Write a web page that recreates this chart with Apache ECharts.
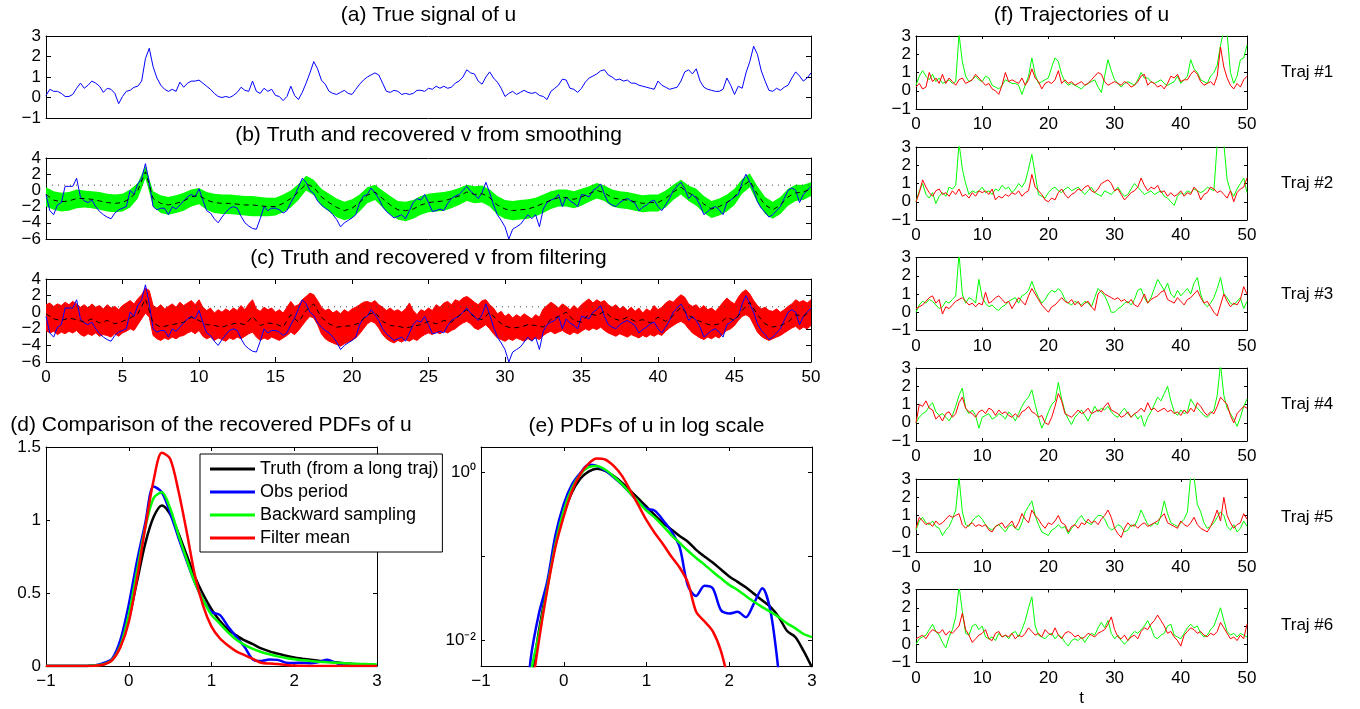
<!DOCTYPE html>
<html><head><meta charset="utf-8">
<script src="https://cdn.jsdelivr.net/npm/echarts@6/dist/echarts.min.js"></script>
<style>html,body{margin:0;padding:0;background:#fff;}#c{width:1360px;height:709px;}</style>
</head><body><div id="c"></div>
<script>
// ---------------- DATA ----------------
const stepFine = 0.25;   // sampling step of u, v, filter band
const stepCoarse = 0.5;  // sampling step of smoother / filter mean / trajectories

const uTrue = [
0.10,0.40,0.30,0.30,0.20,0.05,0.05,0.15,0.45,0.70,0.45,0.60,0.80,0.70,0.55,0.25,0.45,0.40,0.20,-0.30,
0.05,0.30,0.35,0.50,0.55,0.80,1.90,2.40,1.50,0.95,0.60,0.40,0.30,0.40,0.30,0.75,0.50,0.70,0.80,0.80,
0.85,0.70,0.55,0.40,0.20,0.05,0.00,0.05,0.00,0.10,0.25,0.50,0.35,0.30,0.80,0.30,0.20,0.45,0.30,0.40,
0.10,0.05,-0.15,0.05,0.55,0.10,-0.10,0.25,0.70,1.20,1.75,1.40,0.85,0.65,0.30,0.20,0.15,0.25,0.35,0.20,
0.15,0.40,0.65,0.85,1.00,1.10,1.20,1.10,0.70,0.30,0.25,0.35,0.30,0.15,0.20,0.15,0.20,0.35,0.35,0.30,
0.45,0.40,0.55,0.45,0.55,0.45,0.50,0.70,0.80,1.00,1.35,1.20,1.15,0.80,0.65,1.00,1.25,0.95,0.75,0.45,
0.05,0.20,0.30,0.15,0.25,0.35,0.25,0.20,0.25,0.10,0.05,-0.10,0.30,0.45,0.60,0.90,0.85,0.45,0.40,0.25,
0.45,0.75,0.95,1.05,1.15,1.30,1.35,1.10,1.00,0.85,0.90,0.80,0.85,0.70,0.70,0.60,0.55,0.50,0.45,0.40,
0.80,0.60,0.50,0.40,0.45,0.50,0.80,1.25,1.35,1.15,1.40,0.80,0.50,0.40,0.35,0.30,0.30,0.40,0.95,0.60,
0.15,0.55,0.45,1.20,1.75,2.50,2.10,1.30,0.80,0.35,0.30,0.45,0.35,0.50,0.60,0.95,1.25,1.05,0.80,0.95,
1.20];

const vTrue = [
-0.5,-2.5,-3.0,-1.8,-1.5,0.5,0.5,0.5,1.5,-0.8,-1.3,-1.5,-1.2,-2.0,-2.6,-3.0,-3.3,-3.5,-2.8,-2.4,
-2.2,-2.0,0.0,-0.5,0.8,1.5,3.3,1.0,-2.0,-2.4,-2.2,-2.2,-3.0,-2.0,-2.3,-1.8,-1.3,-0.8,-0.5,-0.8,
0.2,-1.2,-2.5,-2.8,-3.5,-4.0,-3.3,-2.7,-2.2,-2.0,-2.2,-3.2,-4.0,-4.4,-4.7,-4.8,-3.5,-2.0,-2.5,-2.2,
-2.2,-2.4,-2.8,-2.5,-1.5,-0.7,0.4,1.5,1.0,0.0,-0.4,-1.3,-1.8,-2.2,-2.5,-3.0,-3.6,-4.5,-4.0,-3.7,
-3.4,-3.0,-1.5,-0.7,-0.5,0.3,-0.3,-1.0,-2.0,-2.6,-3.0,-3.4,-3.2,-3.0,-3.5,-2.5,-1.5,-1.0,-1.2,-0.5,
-1.5,-2.6,-2.5,-2.3,-2.5,-1.6,-1.0,-0.7,-0.5,0.0,0.5,-0.1,-0.5,-1.0,-0.3,1.0,-0.3,-1.8,-3.0,-3.7,
-4.5,-6.0,-4.8,-4.5,-4.2,-3.6,-3.0,-3.5,-3.0,-4.5,-2.3,-1.5,-1.2,-1.0,-0.5,-2.0,-0.8,-1.3,-1.6,-2.0,
-0.5,-0.6,-0.8,0.0,0.3,0.8,-0.5,-1.5,-1.8,-2.0,-1.5,-1.2,-1.0,-1.3,-1.6,-2.5,-2.1,-1.8,-1.4,-1.2,
-2.0,-2.5,-1.8,-1.0,0.0,0.5,1.0,0.2,-1.0,-0.5,-1.0,-1.8,-3.0,-2.6,-2.2,-2.0,-2.4,-3.0,-1.5,-1.2,
-0.8,-0.5,1.0,2.0,1.0,0.0,-1.4,-2.2,-2.7,-3.3,-3.0,-2.5,-2.0,-1.0,0.0,0.3,0.0,-1.5,-0.5,0.0,
0.5];

const smoothMean = [
-0.5,-1.2,-1.4,-1.3,-1.0,-1.0,-1.1,-1.3,-1.5,-1.6,
-1.5,-1.0,0.0,2.3,-1.0,-1.6,-1.8,-1.6,-1.3,-0.8,
-0.6,-1.2,-1.5,-1.6,-1.6,-1.7,-1.8,-1.8,-1.9,-2.0,
-2.0,-1.6,-1.0,-0.2,0.8,0.4,-0.8,-1.5,-2.1,-2.5,
-2.2,-1.5,-0.6,-0.2,-1.0,-1.8,-2.4,-2.5,-2.3,-1.8,
-1.5,-1.4,-1.3,-1.0,-0.7,-0.2,-0.5,-0.4,-0.9,-1.8,
-2.3,-2.5,-2.4,-2.3,-2.0,-1.6,-1.2,-0.9,-0.9,-1.1,
-0.8,-0.4,0.0,-0.3,-0.9,-1.1,-1.2,-1.4,-1.6,-1.5,
-1.5,-1.0,-0.2,0.4,-0.3,-0.8,-1.7,-2.3,-2.0,-1.5,
-0.8,0.5,1.2,-0.5,-1.8,-2.4,-1.8,-0.8,-0.3,-0.2,
0.2];

const smoothUpper = [
0.4,-0.1,-0.3,-0.2,0.1,0.0,-0.1,-0.2,-0.4,-0.5,
-0.4,0.1,0.9,3.0,-0.1,-0.6,-0.8,-0.6,-0.3,0.1,
0.3,-0.2,-0.4,-0.5,-0.5,-0.6,-0.7,-0.7,-0.8,-0.9,
-0.9,-0.5,0.0,0.8,1.8,1.3,0.2,-0.4,-1.0,-1.4,
-1.1,-0.5,0.4,0.7,0.0,-0.7,-1.3,-1.4,-1.2,-0.7,
-0.4,-0.3,-0.2,0.0,0.3,0.7,0.5,0.6,0.1,-0.7,
-1.2,-1.3,-1.2,-1.1,-0.9,-0.5,-0.1,0.1,0.1,-0.1,
0.2,0.5,0.9,0.6,0.1,-0.1,-0.2,-0.4,-0.6,-0.5,
-0.5,0.0,0.7,1.3,0.6,0.2,-0.7,-1.3,-1.0,-0.5,
0.2,1.4,2.1,0.5,-0.8,-1.4,-0.8,0.2,0.7,0.7,
1.0];

const smoothLower = [
-2.0,-2.4,-2.6,-2.5,-2.2,-2.1,-2.2,-2.4,-2.6,-2.7,
-2.6,-2.1,-1.0,1.5,-2.0,-2.8,-3.0,-2.8,-2.5,-2.0,
-1.7,-2.4,-2.8,-2.9,-2.9,-3.0,-3.1,-3.2,-3.2,-3.2,
-3.1,-2.7,-2.1,-1.2,0.0,-0.6,-1.9,-2.6,-3.3,-3.7,
-3.4,-2.6,-1.6,-1.2,-2.1,-3.0,-3.6,-3.8,-3.5,-3.0,
-2.7,-2.6,-2.5,-2.2,-1.8,-1.3,-1.6,-1.5,-2.0,-3.0,
-3.5,-3.7,-3.6,-3.5,-3.2,-2.8,-2.3,-2.0,-2.0,-2.2,
-1.9,-1.4,-1.0,-1.3,-2.0,-2.2,-2.3,-2.5,-2.7,-2.6,
-2.6,-2.1,-1.2,-0.5,-1.3,-1.9,-2.8,-3.4,-3.1,-2.6,
-1.8,-0.4,0.4,-1.5,-2.9,-3.5,-2.9,-1.9,-1.3,-1.2,
-0.7];

const filterMean = [
-0.2,-0.8,-1.0,-0.7,-0.9,-1.2,-0.8,-1.3,-1.0,-1.4,
-1.1,-0.7,-0.2,1.6,-1.3,-1.8,-1.6,-1.4,-1.2,-0.6,
-1.0,-1.5,-1.6,-1.8,-1.5,-1.3,-1.5,-0.5,-1.6,-1.3,
-1.4,-1.8,-0.3,-1.2,0.2,1.0,-0.6,-1.4,-1.8,-1.7,
-1.6,-1.3,-0.3,0.0,-1.1,-1.6,-1.7,-1.9,-1.7,-1.5,
-1.1,-1.4,-1.0,-1.2,-0.4,0.3,-0.6,-0.9,0.0,-1.0,
-1.7,-1.9,-1.8,-1.5,-1.6,-1.8,-0.9,-0.5,0.0,-1.0,
-1.2,-0.2,-0.4,0.1,-0.7,-1.0,-0.6,-1.1,-0.9,-1.3,
-0.6,-1.1,-0.4,0.6,-0.4,-0.9,-1.3,-1.6,-1.4,-0.6,
-1.0,0.2,1.2,-0.3,-1.4,-1.8,-1.6,-1.2,-0.3,-0.5,
0.2];

const filterUpper = [
0.9,1.1,0.7,1.0,0.8,1.2,0.9,1.3,1.0,0.6,0.9,0.5,1.0,0.6,0.8,0.4,0.9,0.5,0.7,0.3,
0.8,1.1,1.4,1.0,1.6,2.1,2.9,2.6,0.8,0.5,0.9,0.4,0.7,1.0,0.6,1.2,0.8,1.1,1.4,0.9,
1.5,0.6,0.2,0.5,-0.1,0.3,0.0,0.4,0.1,0.5,0.2,0.8,0.3,1.0,1.5,0.4,0.1,0.6,0.3,0.5,
0.0,0.3,-0.1,0.6,1.3,0.7,0.9,1.5,1.9,2.3,2.1,1.4,0.6,0.2,0.4,-0.1,0.2,-0.2,0.3,0.0,
0.4,0.6,0.9,1.2,1.3,1.1,1.4,0.9,0.6,0.2,0.5,0.1,0.3,0.0,0.4,1.1,0.2,-0.3,0.3,0.1,
0.5,0.2,0.9,0.6,1.1,1.3,0.9,1.5,1.3,1.7,1.9,1.6,1.2,0.9,1.4,1.5,0.9,0.5,-0.2,0.1,
-0.5,-0.2,-0.7,-0.3,-0.6,-0.2,-0.5,-0.8,-0.3,-0.6,0.4,0.8,1.2,0.9,0.5,1.0,0.7,0.3,0.8,0.4,
0.9,1.3,1.6,1.1,1.5,1.2,1.4,0.9,0.6,0.9,0.4,0.7,0.2,0.6,0.1,0.5,-0.1,0.4,0.1,0.8,
0.3,0.6,1.1,1.4,1.2,1.7,2.1,1.8,1.0,0.7,0.9,0.4,0.8,0.3,0.5,0.1,0.6,1.2,1.7,1.3,
1.0,1.8,2.4,2.7,2.2,1.4,0.8,0.4,0.6,0.2,0.1,0.4,0.0,0.3,0.7,1.0,1.5,1.2,1.4,1.1,
1.5];

const filterLower = [
-2.2,-2.5,-2.3,-2.7,-2.4,-2.6,-2.3,-2.5,-2.2,-2.7,-2.9,-2.6,-2.8,-2.5,-2.9,-2.7,-2.8,-3.0,-2.6,-2.9,
-2.5,-2.3,-2.0,-2.2,-1.5,-0.8,-0.1,-0.6,-2.8,-3.2,-3.4,-3.1,-3.3,-3.0,-3.2,-2.9,-2.8,-2.5,-2.3,-2.6,
-2.2,-2.9,-3.2,-3.0,-3.4,-3.1,-3.3,-3.5,-3.1,-3.3,-3.0,-3.2,-2.9,-2.6,-2.4,-3.0,-3.4,-3.1,-3.3,-3.0,
-3.2,-3.4,-3.1,-2.8,-2.4,-2.7,-2.2,-1.6,-1.0,-0.5,-0.7,-1.5,-2.6,-3.2,-3.5,-3.7,-3.9,-4.1,-3.8,-3.6,
-3.4,-3.1,-2.6,-2.0,-1.4,-1.1,-1.3,-1.9,-2.7,-3.2,-3.5,-3.7,-3.4,-3.6,-3.3,-3.5,-3.2,-3.4,-3.0,-2.7,
-2.5,-2.7,-2.4,-2.6,-2.3,-2.5,-2.2,-2.0,-1.6,-1.3,-1.1,-1.4,-1.9,-2.1,-1.8,-1.5,-2.0,-2.6,-3.1,-3.3,
-3.5,-3.2,-3.4,-3.1,-3.3,-3.5,-3.2,-3.4,-3.1,-3.3,-2.8,-2.5,-2.3,-2.6,-2.4,-2.2,-2.5,-2.7,-2.4,-2.6,
-2.3,-2.0,-2.2,-1.9,-2.1,-1.8,-2.2,-2.5,-2.7,-2.9,-2.6,-2.8,-3.0,-2.7,-2.9,-3.1,-2.8,-3.0,-2.7,-2.9,
-2.6,-2.8,-2.3,-1.9,-1.6,-1.3,-1.1,-1.4,-2.0,-2.5,-2.8,-3.1,-3.3,-3.0,-3.2,-2.9,-3.1,-2.6,-2.2,-2.0,
-1.6,-1.0,-0.5,-0.3,-0.6,-1.5,-2.4,-2.9,-3.2,-3.4,-3.2,-3.0,-2.8,-2.5,-2.2,-1.9,-1.7,-2.1,-1.8,-2.0,
-1.6];

const vReferenceLevel = 0.65;   // dotted horizontal line in (b) and (c)

const pdfX = [-1.0,-0.9,-0.8,-0.7,-0.6,-0.5,-0.4,-0.3,-0.2,-0.1,0.0,0.1,0.2,0.3,0.4,0.5,0.6,0.7,0.8,0.9,
1.0,1.1,1.2,1.3,1.4,1.5,1.6,1.7,1.8,1.9,2.0,2.1,2.2,2.3,2.4,2.5,2.6,2.7,2.8,2.9,3.0];
const pdfTruth = [0.0001,0.0001,0.0001,0.0002,0.0003,0.0008,0.003,0.013,0.045,0.14,
0.32,0.58,0.84,1.02,1.10,1.04,0.91,0.76,0.61,0.49,
0.39,0.31,0.25,0.21,0.175,0.15,0.12,0.10,0.085,0.07,
0.058,0.05,0.043,0.036,0.030,0.025,0.019,0.013,0.011,0.0075,0.0048];
const pdfObs = [0.0001,0.0001,0.0001,0.0001,0.0002,0.0005,0.006,0.021,0.05,0.18,
0.42,0.72,0.98,1.23,1.19,1.05,0.88,0.72,0.57,0.45,
0.37,0.35,0.27,0.2,0.13,0.045,0.034,0.045,0.042,0.023,
0.021,0.022,0.019,0.028,0.042,0.022,0.004,0.0005,0.0002,0.0001,0.0001];
const pdfBack = [0.0001,0.0001,0.0001,0.0002,0.0003,0.0005,0.004,0.012,0.042,0.14,
0.35,0.65,0.95,1.15,1.19,1.08,0.90,0.73,0.57,0.45,
0.35,0.29,0.23,0.18,0.145,0.117,0.096,0.08,0.066,0.055,
0.046,0.04,0.034,0.029,0.025,0.022,0.019,0.016,0.014,0.012,0.011];
const pdfFilter = [0.0001,0.0001,0.0001,0.0001,0.0001,0.0002,0.002,0.01,0.04,0.13,
0.30,0.60,0.95,1.27,1.46,1.42,1.20,0.92,0.62,0.41,
0.27,0.19,0.14,0.10,0.074,0.049,0.022,0.017,0.013,0.0075,
0.003,0.001,0.0005,0.0003,0.0002,0.0001,0.0001,0.0001,0.0001,0.0001,0.0001];
const pdfNames = ['Truth (from a long traj)','Obs period','Backward sampling','Filter mean'];

const traj1Green = [0.3,0.8,1.1,0.8,0.6,0.9,0.5,0.7,0.4,0.5, 0.6,0.4,0.5,3.1,1.6,0.8,0.5,0.6,0.8,0.6, 0.5,0.8,0.7,0.3,0.2,0.1,0.3,0.6,0.5,0.4, 0.4,0.3,-0.2,0.3,0.8,1.8,0.9,0.4,0.5,0.6, 0.7,1.3,1.8,1.6,0.9,0.5,0.3,0.4,0.3,0.2, 0.1,0.3,0.4,0.5,0.6,0.2,-0.1,0.8,1.7,1.1, 0.6,0.4,0.2,0.4,0.5,0.4,0.3,0.6,1.0,0.7, 0.7,0.5,0.4,0.5,0.6,0.4,0.3,0.4,0.5,0.8, 0.4,0.6,0.8,1.7,1.2,1.0,0.6,0.5,0.4,0.8, 1.0,1.4,2.5,3.3,3.1,1.0,0.4,0.8,1.7,1.8, 2.5];
const traj1Red = [0.2,0.4,0.1,0.2,1.0,0.5,0.7,0.4,0.9,0.4, 0.7,0.5,0.3,0.6,0.7,0.4,0.5,0.6,0.9,0.7, 0.5,0.3,0.4,0.1,0.0,-0.2,0.3,1.0,0.5,0.6, 0.5,0.4,0.7,0.3,0.6,1.2,0.7,0.5,0.1,0.4, 0.5,0.4,0.6,1.1,0.4,0.6,0.4,0.5,0.3,0.4, 0.5,0.3,0.4,0.6,0.8,1.0,0.9,0.5,0.3,0.4, 0.5,0.4,0.3,0.5,0.4,0.2,0.3,0.5,0.8,0.9, 0.3,0.5,0.4,0.2,0.3,0.1,0.4,0.8,0.7,0.9, 0.5,0.6,0.6,0.9,1.1,0.9,0.5,0.3,0.4,0.5, 0.3,0.8,2.4,1.3,0.7,0.3,0.1,0.4,0.2,0.6, 0.8];
const traj2Green = [0.0,0.6,1.0,0.4,0.2,0.5,-0.1,0.3,0.5,0.3, 0.8,0.7,0.9,3.2,1.8,1.0,0.4,0.6,0.5,0.6, 0.8,0.5,0.6,0.4,0.7,0.6,0.9,0.7,0.8,0.5, 0.7,1.0,0.8,1.1,1.8,2.6,1.5,0.4,0.3,0.2, 0.5,0.7,0.8,0.6,0.5,0.7,0.8,0.6,0.7,0.8, 0.6,0.4,0.6,0.8,0.5,0.4,0.3,0.6,0.5,0.4, 0.6,0.8,0.5,0.3,0.4,0.7,1.0,0.8,0.6,0.4, 0.5,0.6,0.4,0.5,0.6,0.3,0.2,0.0,-0.2,0.3, 0.5,0.4,0.6,0.5,0.7,0.6,0.5,0.6,0.8,0.7, 0.6,3.2,3.3,3.2,1.2,0.6,0.3,0.7,1.0,1.3, 0.5];
const traj2Red = [0.0,0.5,1.2,0.8,0.5,0.3,0.6,0.7,0.4,0.5, 0.3,0.6,0.4,0.7,0.3,0.4,0.2,0.5,0.3,0.6, 0.5,0.6,0.4,0.7,0.1,0.3,0.2,0.4,0.3,0.5, 0.4,0.6,0.3,0.5,0.6,1.5,0.8,0.6,0.4,0.1, 0.0,0.2,0.1,0.5,0.7,0.4,0.2,0.4,0.5,0.7, 0.6,0.8,0.9,0.6,0.5,0.7,1.0,1.1,1.2,1.0, 0.6,0.7,0.4,0.1,0.3,0.5,0.6,0.8,1.3,0.9, 0.6,0.8,0.7,0.9,0.5,0.6,0.3,0.5,0.3,0.4, 0.6,0.3,0.5,0.4,0.8,0.6,0.1,0.4,0.5,0.8, 0.7,0.5,0.6,0.4,0.2,0.6,0.0,0.5,0.7,0.8, 1.3];
const traj3Green = [0.0,0.4,0.6,0.5,0.7,0.6,0.4,0.2,0.3,0.6, 0.5,0.7,0.9,3.2,1.0,0.5,0.8,0.7,0.5,1.8, 0.8,0.5,0.3,0.4,0.2,0.1,0.3,0.4,0.6,0.7, 0.8,0.5,0.9,1.0,1.2,1.7,1.2,0.8,0.5,0.7, 1.0,1.2,1.1,1.3,1.1,0.7,0.5,0.4,0.6,0.5, 0.4,0.6,0.5,0.3,0.8,1.3,1.1,0.9,0.5,0.0, 0.0,0.2,0.3,0.5,0.6,0.4,0.7,1.2,1.3,0.8, 0.5,0.8,1.3,1.8,1.5,1.2,1.6,1.0,0.8,1.2, 0.9,1.1,1.3,1.0,1.6,1.9,1.0,0.5,0.3,0.5, 0.8,1.3,1.9,1.0,0.8,0.5,0.4,0.6,0.8,0.2, 0.6];
const traj3Red = [0.2,0.3,0.4,0.6,0.8,0.9,0.5,0.7,-0.1,0.3, 0.2,0.4,0.6,0.7,0.8,0.6,0.4,0.5,0.3,0.5, 0.4,1.1,0.5,0.6,0.8,0.9,0.7,0.5,0.6,0.2, 0.5,0.8,0.6,0.4,0.9,1.3,1.0,0.7,0.4,0.2, 0.0,0.3,0.4,0.6,0.8,0.6,0.5,0.7,0.4,0.6, 0.3,0.5,0.6,0.3,0.1,1.0,1.2,1.0,0.9,0.8, 0.7,0.8,0.6,0.7,0.5,0.7,0.4,0.3,0.6,1.0, 0.5,0.7,0.8,0.9,1.1,1.2,0.7,0.6,0.5,0.8, 0.6,0.4,0.7,0.8,1.0,1.2,0.8,0.5,0.6,0.3, 0.0,-0.2,0.4,1.0,0.6,0.3,0.5,0.4,0.7,1.4, 1.0];
const traj4Green = [0.0,0.3,0.5,0.6,0.9,1.1,0.6,0.4,0.5,0.3, 0.1,0.4,0.9,1.5,1.9,0.8,0.5,0.7,0.4,-0.3, 0.3,0.4,0.5,0.2,0.3,0.5,0.4,0.2,0.6,0.4, 0.1,0.5,0.9,1.2,1.4,1.8,1.0,0.3,-0.3,0.1, 0.6,1.0,1.2,2.2,1.3,0.6,0.2,-0.1,0.3,0.5, 0.7,0.4,0.1,0.5,0.9,0.6,0.8,0.7,0.9,0.6, 0.4,0.3,0.6,0.8,0.5,0.3,0.5,0.2,0.4,-0.2, 0.3,0.6,1.0,1.4,1.2,1.6,2.0,1.2,0.6,0.4, 0.7,0.5,0.6,1.3,1.0,0.8,0.6,0.4,0.3,0.5, 0.7,1.5,3.2,1.5,0.8,0.5,0.2,-0.2,0.3,0.9, 1.3];
const traj4Red = [0.0,1.0,0.9,1.2,0.8,0.7,0.2,0.4,0.1,0.5, 0.6,0.3,0.5,1.1,1.4,0.8,0.6,0.5,0.3,0.6, 0.7,0.5,0.8,0.7,0.4,0.7,0.5,0.6,0.4,0.3, 0.5,0.3,0.6,0.7,0.9,0.6,0.5,0.3,0.4,0.0, -0.1,0.3,0.9,1.6,1.2,0.5,0.4,0.3,0.5,0.7, 0.5,0.6,0.8,0.5,0.6,0.7,0.6,0.9,1.1,0.7, 0.6,0.5,0.3,0.4,0.6,0.3,0.5,0.6,0.8,0.6, 1.1,0.7,0.8,0.6,0.7,0.8,0.6,0.7,0.5,0.6, 0.4,0.7,0.5,0.8,0.6,1.1,0.9,0.6,0.4,0.6, 0.5,0.9,1.4,1.2,1.0,0.4,0.0,0.5,0.7,0.9, 0.8];
const traj5Green = [0.2,0.7,0.9,0.6,0.5,0.7,0.4,0.3,-0.1,0.2, 0.4,0.8,1.3,3.1,1.2,0.5,0.4,0.7,0.9,1.0, 0.8,0.5,0.3,0.2,0.4,0.5,0.3,0.1,0.4,0.5, 0.3,0.2,0.6,1.2,1.5,1.8,1.0,0.5,0.1,0.0, -0.1,0.2,0.3,0.5,0.3,0.4,0.0,0.3,0.5,0.8, 1.0,0.7,0.6,0.5,0.8,1.0,1.0,0.8,0.4,0.2, 0.3,0.5,0.4,0.1,0.2,0.5,0.4,0.8,1.3,0.9, 0.5,0.4,0.6,0.5,1.0,1.8,1.1,0.6,0.5,0.4, 0.6,0.8,1.2,3.2,3.1,1.6,1.2,0.6,0.3,0.4, 0.6,0.9,1.2,1.0,0.4,0.2,0.5,0.1,0.3,0.7, 0.4];
const traj5Red = [0.3,0.9,0.7,0.5,0.6,0.4,0.7,0.5,0.6,0.8, 1.0,0.9,1.0,1.1,0.5,0.3,0.5,0.6,0.4,0.5, 0.4,0.5,0.2,0.1,0.4,0.5,0.6,0.3,0.5,0.7, 0.3,0.6,1.1,0.8,0.6,1.3,1.0,0.8,0.5,0.3, 0.6,0.5,0.7,1.0,0.6,0.5,0.1,0.4,0.5,0.3, 0.6,0.5,0.8,0.6,0.7,0.5,0.8,1.0,1.3,0.9, 0.3,0.0,-0.2,0.3,0.6,0.4,0.5,0.3,0.5,0.6, 0.4,0.5,0.6,0.7,0.9,1.1,0.6,0.5,0.4,0.3, 0.7,0.5,0.4,0.6,0.9,0.5,0.3,0.2,0.1,0.4, 0.8,1.3,0.7,2.0,1.0,0.6,0.3,0.5,0.6,1.1, 0.8];
const traj6Green = [0.0,0.3,0.4,0.5,0.8,1.1,0.7,0.5,0.1,-0.2, 0.4,0.8,1.5,3.2,1.8,0.6,0.5,1.0,1.1,0.8, 1.0,0.4,0.3,0.4,0.2,0.6,0.4,0.5,0.3,0.6, 0.7,0.4,0.8,1.3,2.0,2.6,1.0,0.5,0.4,0.3, 0.5,0.6,0.3,0.5,0.4,0.1,-0.1,0.2,0.3,0.2, 0.4,0.1,0.4,0.6,0.5,0.9,1.2,0.9,1.3,0.6, 0.3,0.5,0.2,0.0,0.2,0.5,0.7,0.6,0.8,1.0, 1.3,0.9,0.4,0.3,0.5,0.6,1.0,1.1,0.5,0.4, 0.3,0.6,0.9,1.1,0.9,1.0,0.6,0.4,0.5,0.8, 1.0,1.5,2.0,1.3,0.7,0.5,0.6,0.4,0.6,0.5, 0.4];
const traj6Red = [0.3,0.4,0.5,0.3,0.6,0.8,0.7,0.6,0.8,0.5, 0.7,0.6,0.8,1.0,1.7,0.8,0.5,0.1,0.3,0.5, 0.6,0.8,0.3,0.2,0.6,0.7,0.4,0.5,0.4,0.6, 0.3,0.5,0.4,0.6,0.9,0.7,0.5,0.6,0.4,0.8, 0.6,0.5,0.9,0.5,0.3,0.6,0.7,0.6,0.4,0.5, 0.3,0.4,0.6,0.5,0.4,0.6,0.7,0.8,1.1,1.5, 0.8,0.4,0.3,0.5,0.2,0.4,0.5,0.3,0.7,0.9, 0.8,1.1,1.3,1.6,1.3,1.0,0.6,0.7,0.4,0.2, -0.1,0.5,0.7,0.9,0.8,0.6,0.7,0.5,0.4,0.6, 0.5,0.7,1.2,0.9,0.6,0.3,0.4,0.2,0.5,0.3, 1.1];
const trajGreen = [traj1Green, traj2Green, traj3Green, traj4Green, traj5Green, traj6Green];
const trajRed = [traj1Red, traj2Red, traj3Red, traj4Red, traj5Red, traj6Red];
const trajLabels = ['Traj #1','Traj #2','Traj #3','Traj #4','Traj #5','Traj #6'];

// ---------------- CHART ----------------
const FONT = "'Liberation Sans', Arial, Helvetica, sans-serif";
const BLUE = '#0000ff', GREEN = '#00ff00', RED = '#ff0000', BLACK = '#000000';

const grids = [
  {left:46, top:36, width:765, height:82},
  {left:46, top:158, width:765, height:81},
  {left:46, top:279, width:765, height:83},
  {left:46, top:447, width:331, height:219},
  {left:481, top:447, width:331, height:219},
  {left:916, top:36, width:331, height:73},
  {left:916, top:147, width:331, height:73},
  {left:916, top:257.5, width:331, height:73},
  {left:916, top:368, width:331, height:73},
  {left:916, top:479, width:331, height:73},
  {left:916, top:589.5, width:331, height:73}
];

const tAt = (i, step) => Math.round(i * step * 100) / 100;
const pairs = (arr, step) => arr.map((v, i) => [tAt(i, step), v]);
const fmtNum = v => String(v).replace('-', '\u2212');

const xAxes = [], yAxes = [], extraYAxes = [];
function labelStyle(show, horiz, formatter, more) {
  return Object.assign({show, color: BLACK, fontSize: 17, fontFamily: FONT, margin: horiz ? 7 : 5,
    formatter: formatter || fmtNum, showMinLabel: true, showMaxLabel: true, hideOverlap: false}, more || {});
}
function mkAxis(gi, pos, range, labels, tickLen, extra) {
  const horiz = pos === 'bottom' || pos === 'top';
  return Object.assign({
    gridIndex: gi, position: pos, type: 'value',
    min: range[0], max: range[1], interval: range[2],
    axisLine: {show: true, onZero: false, lineStyle: {color: BLACK, width: 1}},
    axisTick: {show: tickLen > 0, inside: true, length: tickLen, lineStyle: {color: BLACK, width: 1}},
    axisLabel: labelStyle(labels, horiz),
    splitLine: {show: false}
  }, extra || {});
}
function addAxes(gi, xr, yr, showXLabels, xTick, yTick, yExtra, yExtraMirror) {
  xAxes.push(mkAxis(gi, 'bottom', xr, showXLabels, xTick));
  xAxes.push(mkAxis(gi, 'top', xr, false, xTick));
  yAxes.push(mkAxis(gi, 'left', yr, true, yTick, yExtra));
  yAxes.push(mkAxis(gi, 'right', yr, false, yTick, yExtraMirror));
}
const logLabel = v => {
  const e = Math.log10(v), r = Math.round(e);
  if (Math.abs(e - r) > 1e-6) return '';
  if (r === 0) return '10\u2070';
  if (r === -2) return '10\u207B\u00B2';
  return '';
};
const logAxisExtra = labels => ({
  type: 'log', logBase: 10, interval: undefined,
  axisLabel: labelStyle(labels, false, logLabel)
});
// dense v-axes (b),(c): labels split over two coincident axes so that none is dropped as overlapping
const vRange = [-6, 4, 2];
const vLabelsA = v => (v % 4 === 0 ? fmtNum(v) : '');
const vLabelsB = v => (v % 4 !== 0 ? fmtNum(v) : '');
const vAxisMain = {axisLabel: labelStyle(true, false, vLabelsA, {showMinLabel: false})};
function addVLabelAxis(gi) {
  extraYAxes.push(mkAxis(gi, 'left', vRange, true, 0, {
    axisLine: {show: false}, axisTick: {show: false},
    axisLabel: labelStyle(true, false, vLabelsB, {showMaxLabel: false})
  }));
}

addAxes(0, [0, 50, 5], [-1, 3, 1], false, 0, 5);
addAxes(1, [0, 50, 5], vRange, false, 0, 5, vAxisMain);
addAxes(2, [0, 50, 5], vRange, true, 5, 5, vAxisMain);
addAxes(3, [-1, 3, 1], [0, 1.5, 0.5], true, 4, 4);
addAxes(4, [-1, 3, 1], [0.005, 2], true, 4, 4, logAxisExtra(true), logAxisExtra(false));
for (let k = 0; k < 6; k++) addAxes(5 + k, [0, 50, 10], [-1, 3, 1], true, 3, 3);
addVLabelAxis(1);
addVLabelAxis(2);

function line(gi, data, color, width, extra) {
  return Object.assign({
    type: 'line', xAxisIndex: 2 * gi, yAxisIndex: 2 * gi, data,
    showSymbol: false, symbol: 'none', silent: true, animation: false, clip: true,
    lineStyle: {color, width}, itemStyle: {color}
  }, extra || {});
}
// shaded band between lower and upper arrays, drawn as one polygon through the axis scales
function band(gi, lower, upper, step, color, edgeWidth) {
  return {
    type: 'custom', xAxisIndex: 2 * gi, yAxisIndex: 2 * gi, silent: true, animation: false, clip: true,
    data: [[0, 0]],
    renderItem: (params, api) => {
      const top = upper.map((v, i) => api.coord([tAt(i, step), v]));
      const bot = lower.map((v, i) => api.coord([tAt(i, step), v])).reverse();
      return {type: 'polygon', shape: {points: top.concat(bot)},
              style: {fill: color, stroke: edgeWidth ? color : null, lineWidth: edgeWidth || 0}};
    }
  };
}
const refLine = gi => line(gi, [[0, vReferenceLevel], [50, vReferenceLevel]], '#444', 1, {lineStyle: {color: '#444', width: 1, type: [1, 5]}});

const series = [];
// (a)
series.push(line(0, pairs(uTrue, stepFine), BLUE, 1));
// (b)
series.push(band(1, smoothLower, smoothUpper, stepCoarse, GREEN, 0));
series.push(line(1, pairs(vTrue, stepFine), BLUE, 1));
series.push(line(1, pairs(smoothMean, stepCoarse), BLACK, 1, {lineStyle: {color: BLACK, width: 1, type: [5, 4]}}));
series.push(refLine(1));
// (c)
series.push(band(2, filterLower, filterUpper, stepFine, RED, 1));
series.push(line(2, pairs(vTrue, stepFine), BLUE, 1));
series.push(line(2, pairs(filterMean, stepCoarse), BLACK, 1, {lineStyle: {color: BLACK, width: 1, type: [5, 4]}}));
series.push(refLine(2));
// (d) & (e)
const pdfSets = [pdfTruth, pdfObs, pdfBack, pdfFilter];
const pdfColors = [BLACK, BLUE, GREEN, RED];
[3, 4].forEach(gi => {
  pdfSets.forEach((arr, k) => {
    series.push(line(gi, pdfX.map((x, i) => [x, arr[i]]), pdfColors[k], 2.5, {name: pdfNames[k], smooth: 0.3}));
  });
});
// (f)
for (let k = 0; k < 6; k++) {
  series.push(line(5 + k, pairs(trajGreen[k], stepCoarse), GREEN, 1));
  series.push(line(5 + k, pairs(trajRed[k], stepCoarse), RED, 1));
}

const texts = [
  ['(a) True signal of u', 428.5, 15, 'center', 21],
  ['(b) Truth and recovered v from smoothing', 428.5, 135, 'center', 21],
  ['(c) Truth and recovered v from filtering', 428.5, 258, 'center', 21],
  ['(d) Comparison of the recovered PDFs of u', 211, 425, 'center', 21],
  ['(e) PDFs of u in log scale', 646.5, 426, 'center', 21],
  ['(f) Trajectories of u', 1081.5, 15, 'center', 21],
  ['t', 1081.5, 698, 'center', 17]
];
const trajY = [72, 183, 294, 404, 517, 625];
trajLabels.forEach((t, k) => texts.push([t, 1281, trajY[k], 'left', 17]));

const chart = echarts.init(document.getElementById('c'), null, {renderer: 'canvas'});
chart.setOption({
  backgroundColor: '#ffffff',
  animation: false,
  grid: grids,
  xAxis: xAxes,
  yAxis: yAxes.concat(extraYAxes),
  legend: {
    data: pdfNames.map(n => ({name: n, icon: 'rect'})), orient: 'vertical', left: 200, top: 454,
    itemWidth: 45, itemHeight: 3, itemGap: 5,
    padding: [6, 4, 5, 10], borderColor: BLACK, borderWidth: 1, backgroundColor: '#fff',
    textStyle: {fontSize: 18, fontFamily: FONT, color: BLACK, lineHeight: 18},
    selectedMode: false, z: 10
  },
  graphic: texts.map(([t, x, y, al, fs]) => ({
    type: 'text', x, y, silent: true,
    style: {text: t, font: fs + 'px ' + FONT, fill: BLACK, textAlign: al, textVerticalAlign: 'middle', align: al, verticalAlign: 'middle'}
  })),
  series
});
</script>
</body></html>
